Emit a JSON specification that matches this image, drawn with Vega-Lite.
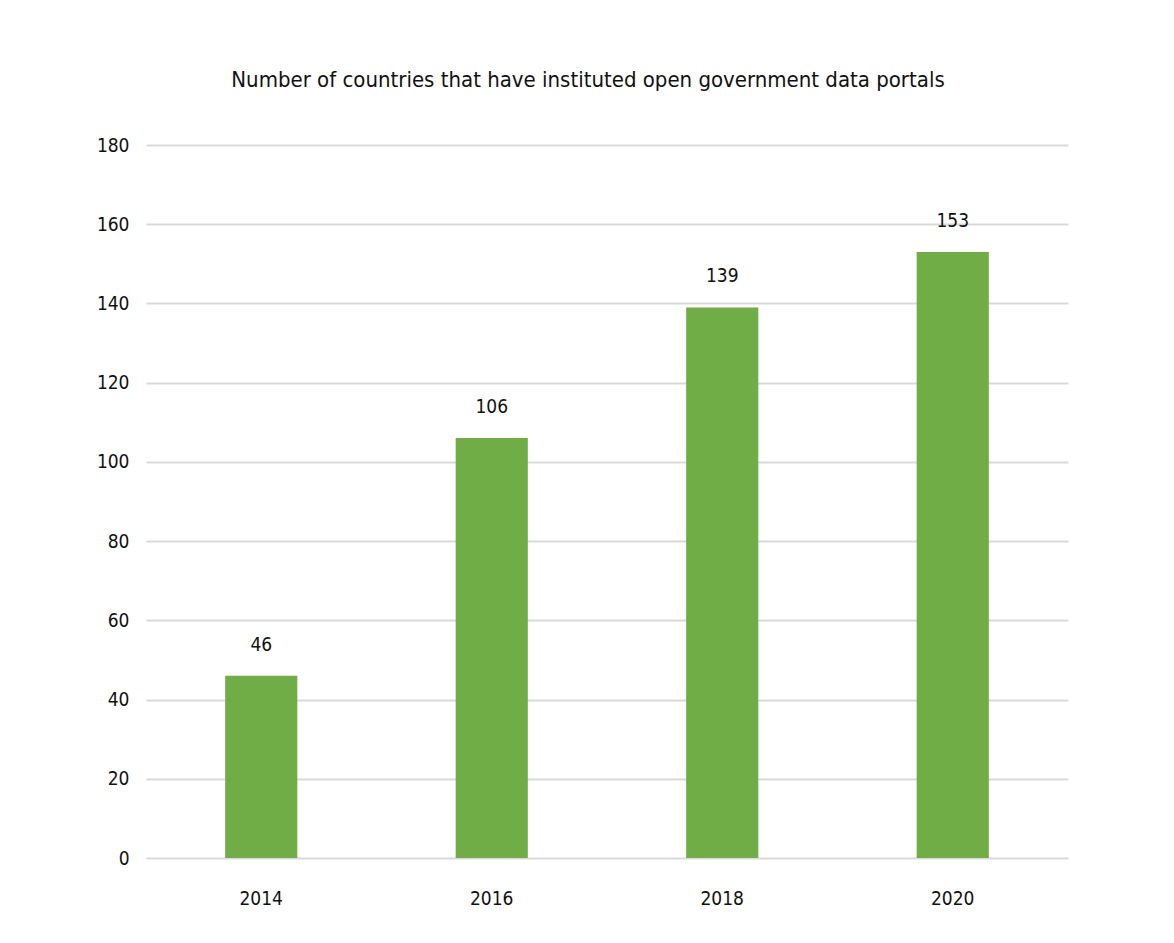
{
  "$schema": "https://vega.github.io/schema/vega-lite/v6.json",
  "width": 922,
  "height": 713,
  "autosize": {"type": "none"},
  "padding": {"left": 146, "top": 145, "right": 106, "bottom": 85},
  "background": "white",
  "config": {
    "font": "DejaVu Sans Condensed, sans-serif",
    "view": {"stroke": null}
  },
  "title": {
    "text": "Number of countries that have instituted open government  data portals",
    "fontSize": 22,
    "fontWeight": "normal",
    "color": "#111111",
    "anchor": "middle",
    "offset": 44,
    "dx": -19,
    "font": "DejaVu Sans Condensed, sans-serif"
  },
  "data": {
    "values": [
      {"year": "2014", "count": 46},
      {"year": "2016", "count": 106},
      {"year": "2018", "count": 139},
      {"year": "2020", "count": 153}
    ]
  },
  "encoding": {
    "x": {
      "field": "year",
      "type": "nominal",
      "scale": {"paddingInner": 0.687, "paddingOuter": 0.3435},
      "axis": {
        "title": null,
        "labelAngle": 0,
        "domain": false,
        "ticks": false,
        "labelPadding": 31,
        "labelFontSize": 19,
        "labelColor": "#111111"
      }
    },
    "y": {
      "field": "count",
      "type": "quantitative",
      "scale": {"domain": [0, 180]},
      "axis": {
        "title": null,
        "values": [0, 20, 40, 60, 80, 100, 120, 140, 160, 180],
        "domain": false,
        "ticks": false,
        "labelPadding": 17,
        "labelFontSize": 19,
        "labelColor": "#111111",
        "gridColor": "#D9D9D9",
        "gridWidth": 2
      }
    }
  },
  "layer": [
    {"mark": {"type": "bar", "color": "#70AD47"}},
    {
      "mark": {"type": "text", "baseline": "alphabetic", "dy": -25, "fontSize": 19, "color": "#111111"},
      "encoding": {"text": {"field": "count", "type": "quantitative"}}
    }
  ]
}
